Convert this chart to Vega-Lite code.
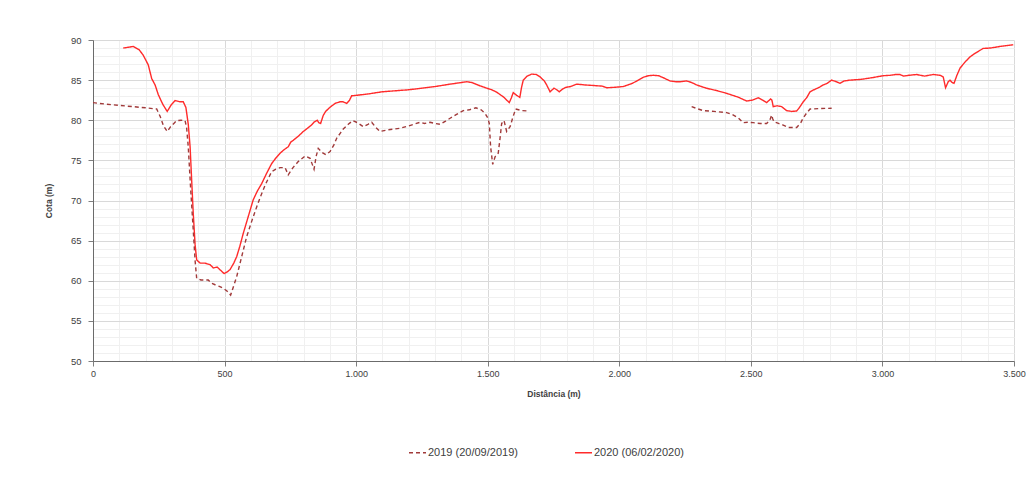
{
  "$schema": "https://vega.github.io/schema/vega-lite/v6.json",
  "autosize": {"type": "none"},
  "width": 921,
  "height": 321,
  "padding": {"left": 93, "top": 40, "right": 18, "bottom": 138},
  "background": "white",
  "config": {
    "view": {"stroke": null},
    "font": "Liberation Sans",
    "locale": {"number": {"decimal": ",", "thousands": ".", "grouping": [3], "currency": ["", " €"]}}
  },
  "data": {"values": [
{"s":"2020 (06/02/2020)","g":"a","d":115,"v":89.0},{"s":"2020 (06/02/2020)","g":"a","d":135,"v":89.1},{"s":"2020 (06/02/2020)","g":"a","d":153,"v":89.2},{"s":"2020 (06/02/2020)","g":"a","d":175,"v":88.8},{"s":"2020 (06/02/2020)","g":"a","d":191,"v":88.1},{"s":"2020 (06/02/2020)","g":"a","d":210,"v":86.9},{"s":"2020 (06/02/2020)","g":"a","d":223,"v":85.2},{"s":"2020 (06/02/2020)","g":"a","d":236,"v":84.4},{"s":"2020 (06/02/2020)","g":"a","d":248,"v":83.2},{"s":"2020 (06/02/2020)","g":"a","d":265,"v":82.0},{"s":"2020 (06/02/2020)","g":"a","d":282,"v":81.1},{"s":"2020 (06/02/2020)","g":"a","d":297,"v":81.9},{"s":"2020 (06/02/2020)","g":"a","d":312,"v":82.45},{"s":"2020 (06/02/2020)","g":"a","d":330,"v":82.3},{"s":"2020 (06/02/2020)","g":"a","d":343,"v":82.3},{"s":"2020 (06/02/2020)","g":"a","d":353,"v":81.6},{"s":"2020 (06/02/2020)","g":"a","d":362,"v":79.5},{"s":"2020 (06/02/2020)","g":"a","d":369,"v":76.7},{"s":"2020 (06/02/2020)","g":"a","d":375,"v":72.5},{"s":"2020 (06/02/2020)","g":"a","d":381,"v":68.4},{"s":"2020 (06/02/2020)","g":"a","d":388,"v":64.5},{"s":"2020 (06/02/2020)","g":"a","d":394,"v":62.6},{"s":"2020 (06/02/2020)","g":"a","d":407,"v":62.2},{"s":"2020 (06/02/2020)","g":"a","d":425,"v":62.2},{"s":"2020 (06/02/2020)","g":"a","d":445,"v":62.0},{"s":"2020 (06/02/2020)","g":"a","d":457,"v":61.6},{"s":"2020 (06/02/2020)","g":"a","d":472,"v":61.7},{"s":"2020 (06/02/2020)","g":"a","d":485,"v":61.3},{"s":"2020 (06/02/2020)","g":"a","d":498,"v":60.9},{"s":"2020 (06/02/2020)","g":"a","d":510,"v":61.1},{"s":"2020 (06/02/2020)","g":"a","d":521,"v":61.4},{"s":"2020 (06/02/2020)","g":"a","d":535,"v":62.2},{"s":"2020 (06/02/2020)","g":"a","d":546,"v":63.0},{"s":"2020 (06/02/2020)","g":"a","d":558,"v":64.3},{"s":"2020 (06/02/2020)","g":"a","d":571,"v":65.9},{"s":"2020 (06/02/2020)","g":"a","d":590,"v":68.0},{"s":"2020 (06/02/2020)","g":"a","d":609,"v":70.1},{"s":"2020 (06/02/2020)","g":"a","d":625,"v":71.2},{"s":"2020 (06/02/2020)","g":"a","d":641,"v":72.1},{"s":"2020 (06/02/2020)","g":"a","d":660,"v":73.4},{"s":"2020 (06/02/2020)","g":"a","d":679,"v":74.6},{"s":"2020 (06/02/2020)","g":"a","d":695,"v":75.3},{"s":"2020 (06/02/2020)","g":"a","d":711,"v":75.9},{"s":"2020 (06/02/2020)","g":"a","d":725,"v":76.3},{"s":"2020 (06/02/2020)","g":"a","d":742,"v":76.7},{"s":"2020 (06/02/2020)","g":"a","d":752,"v":77.3},{"s":"2020 (06/02/2020)","g":"a","d":761,"v":77.5},{"s":"2020 (06/02/2020)","g":"a","d":780,"v":78.0},{"s":"2020 (06/02/2020)","g":"a","d":799,"v":78.6},{"s":"2020 (06/02/2020)","g":"a","d":815,"v":79.0},{"s":"2020 (06/02/2020)","g":"a","d":830,"v":79.4},{"s":"2020 (06/02/2020)","g":"a","d":841,"v":79.8},{"s":"2020 (06/02/2020)","g":"a","d":852,"v":80.0},{"s":"2020 (06/02/2020)","g":"a","d":858,"v":79.7},{"s":"2020 (06/02/2020)","g":"a","d":865,"v":79.6},{"s":"2020 (06/02/2020)","g":"a","d":875,"v":80.6},{"s":"2020 (06/02/2020)","g":"a","d":884,"v":81.1},{"s":"2020 (06/02/2020)","g":"a","d":900,"v":81.6},{"s":"2020 (06/02/2020)","g":"a","d":920,"v":82.1},{"s":"2020 (06/02/2020)","g":"a","d":939,"v":82.3},{"s":"2020 (06/02/2020)","g":"a","d":950,"v":82.3},{"s":"2020 (06/02/2020)","g":"a","d":964,"v":82.1},{"s":"2020 (06/02/2020)","g":"a","d":975,"v":82.5},{"s":"2020 (06/02/2020)","g":"a","d":983,"v":83.05},{"s":"2020 (06/02/2020)","g":"a","d":1000,"v":83.1},{"s":"2020 (06/02/2020)","g":"a","d":1050,"v":83.3},{"s":"2020 (06/02/2020)","g":"a","d":1100,"v":83.55},{"s":"2020 (06/02/2020)","g":"a","d":1200,"v":83.8},{"s":"2020 (06/02/2020)","g":"a","d":1300,"v":84.2},{"s":"2020 (06/02/2020)","g":"a","d":1357,"v":84.5},{"s":"2020 (06/02/2020)","g":"a","d":1400,"v":84.7},{"s":"2020 (06/02/2020)","g":"a","d":1420,"v":84.8},{"s":"2020 (06/02/2020)","g":"a","d":1440,"v":84.7},{"s":"2020 (06/02/2020)","g":"a","d":1470,"v":84.3},{"s":"2020 (06/02/2020)","g":"a","d":1496,"v":84.0},{"s":"2020 (06/02/2020)","g":"a","d":1515,"v":83.8},{"s":"2020 (06/02/2020)","g":"a","d":1534,"v":83.5},{"s":"2020 (06/02/2020)","g":"a","d":1560,"v":82.9},{"s":"2020 (06/02/2020)","g":"a","d":1582,"v":82.2},{"s":"2020 (06/02/2020)","g":"a","d":1590,"v":82.8},{"s":"2020 (06/02/2020)","g":"a","d":1597,"v":83.45},{"s":"2020 (06/02/2020)","g":"a","d":1610,"v":83.1},{"s":"2020 (06/02/2020)","g":"a","d":1622,"v":82.85},{"s":"2020 (06/02/2020)","g":"a","d":1628,"v":84.0},{"s":"2020 (06/02/2020)","g":"a","d":1635,"v":85.0},{"s":"2020 (06/02/2020)","g":"a","d":1650,"v":85.5},{"s":"2020 (06/02/2020)","g":"a","d":1667,"v":85.75},{"s":"2020 (06/02/2020)","g":"a","d":1685,"v":85.7},{"s":"2020 (06/02/2020)","g":"a","d":1699,"v":85.4},{"s":"2020 (06/02/2020)","g":"a","d":1715,"v":84.9},{"s":"2020 (06/02/2020)","g":"a","d":1724,"v":84.4},{"s":"2020 (06/02/2020)","g":"a","d":1737,"v":83.55},{"s":"2020 (06/02/2020)","g":"a","d":1752,"v":84.0},{"s":"2020 (06/02/2020)","g":"a","d":1762,"v":83.8},{"s":"2020 (06/02/2020)","g":"a","d":1772,"v":83.55},{"s":"2020 (06/02/2020)","g":"a","d":1785,"v":83.9},{"s":"2020 (06/02/2020)","g":"a","d":1797,"v":84.1},{"s":"2020 (06/02/2020)","g":"a","d":1815,"v":84.2},{"s":"2020 (06/02/2020)","g":"a","d":1838,"v":84.5},{"s":"2020 (06/02/2020)","g":"a","d":1870,"v":84.4},{"s":"2020 (06/02/2020)","g":"a","d":1914,"v":84.3},{"s":"2020 (06/02/2020)","g":"a","d":1935,"v":84.25},{"s":"2020 (06/02/2020)","g":"a","d":1952,"v":84.05},{"s":"2020 (06/02/2020)","g":"a","d":1980,"v":84.1},{"s":"2020 (06/02/2020)","g":"a","d":2015,"v":84.2},{"s":"2020 (06/02/2020)","g":"a","d":2050,"v":84.6},{"s":"2020 (06/02/2020)","g":"a","d":2091,"v":85.35},{"s":"2020 (06/02/2020)","g":"a","d":2110,"v":85.55},{"s":"2020 (06/02/2020)","g":"a","d":2129,"v":85.6},{"s":"2020 (06/02/2020)","g":"a","d":2150,"v":85.55},{"s":"2020 (06/02/2020)","g":"a","d":2167,"v":85.3},{"s":"2020 (06/02/2020)","g":"a","d":2193,"v":84.9},{"s":"2020 (06/02/2020)","g":"a","d":2215,"v":84.8},{"s":"2020 (06/02/2020)","g":"a","d":2231,"v":84.8},{"s":"2020 (06/02/2020)","g":"a","d":2256,"v":84.9},{"s":"2020 (06/02/2020)","g":"a","d":2275,"v":84.7},{"s":"2020 (06/02/2020)","g":"a","d":2294,"v":84.4},{"s":"2020 (06/02/2020)","g":"a","d":2330,"v":84.0},{"s":"2020 (06/02/2020)","g":"a","d":2370,"v":83.7},{"s":"2020 (06/02/2020)","g":"a","d":2408,"v":83.35},{"s":"2020 (06/02/2020)","g":"a","d":2450,"v":82.9},{"s":"2020 (06/02/2020)","g":"a","d":2484,"v":82.4},{"s":"2020 (06/02/2020)","g":"a","d":2505,"v":82.5},{"s":"2020 (06/02/2020)","g":"a","d":2528,"v":82.8},{"s":"2020 (06/02/2020)","g":"a","d":2545,"v":82.5},{"s":"2020 (06/02/2020)","g":"a","d":2560,"v":82.2},{"s":"2020 (06/02/2020)","g":"a","d":2575,"v":82.65},{"s":"2020 (06/02/2020)","g":"a","d":2580,"v":82.5},{"s":"2020 (06/02/2020)","g":"a","d":2585,"v":81.7},{"s":"2020 (06/02/2020)","g":"a","d":2600,"v":81.8},{"s":"2020 (06/02/2020)","g":"a","d":2617,"v":81.7},{"s":"2020 (06/02/2020)","g":"a","d":2636,"v":81.2},{"s":"2020 (06/02/2020)","g":"a","d":2655,"v":81.1},{"s":"2020 (06/02/2020)","g":"a","d":2674,"v":81.15},{"s":"2020 (06/02/2020)","g":"a","d":2685,"v":81.6},{"s":"2020 (06/02/2020)","g":"a","d":2699,"v":82.3},{"s":"2020 (06/02/2020)","g":"a","d":2712,"v":82.8},{"s":"2020 (06/02/2020)","g":"a","d":2725,"v":83.55},{"s":"2020 (06/02/2020)","g":"a","d":2740,"v":83.8},{"s":"2020 (06/02/2020)","g":"a","d":2760,"v":84.1},{"s":"2020 (06/02/2020)","g":"a","d":2775,"v":84.4},{"s":"2020 (06/02/2020)","g":"a","d":2790,"v":84.6},{"s":"2020 (06/02/2020)","g":"a","d":2807,"v":85.0},{"s":"2020 (06/02/2020)","g":"a","d":2825,"v":84.8},{"s":"2020 (06/02/2020)","g":"a","d":2839,"v":84.6},{"s":"2020 (06/02/2020)","g":"a","d":2855,"v":84.9},{"s":"2020 (06/02/2020)","g":"a","d":2877,"v":85.0},{"s":"2020 (06/02/2020)","g":"a","d":2920,"v":85.1},{"s":"2020 (06/02/2020)","g":"a","d":2960,"v":85.3},{"s":"2020 (06/02/2020)","g":"a","d":3003,"v":85.55},{"s":"2020 (06/02/2020)","g":"a","d":3030,"v":85.6},{"s":"2020 (06/02/2020)","g":"a","d":3050,"v":85.7},{"s":"2020 (06/02/2020)","g":"a","d":3067,"v":85.7},{"s":"2020 (06/02/2020)","g":"a","d":3080,"v":85.5},{"s":"2020 (06/02/2020)","g":"a","d":3100,"v":85.6},{"s":"2020 (06/02/2020)","g":"a","d":3130,"v":85.7},{"s":"2020 (06/02/2020)","g":"a","d":3160,"v":85.5},{"s":"2020 (06/02/2020)","g":"a","d":3193,"v":85.7},{"s":"2020 (06/02/2020)","g":"a","d":3220,"v":85.6},{"s":"2020 (06/02/2020)","g":"a","d":3231,"v":85.4},{"s":"2020 (06/02/2020)","g":"a","d":3240,"v":84.05},{"s":"2020 (06/02/2020)","g":"a","d":3250,"v":84.8},{"s":"2020 (06/02/2020)","g":"a","d":3257,"v":85.0},{"s":"2020 (06/02/2020)","g":"a","d":3265,"v":84.7},{"s":"2020 (06/02/2020)","g":"a","d":3272,"v":84.6},{"s":"2020 (06/02/2020)","g":"a","d":3283,"v":85.6},{"s":"2020 (06/02/2020)","g":"a","d":3295,"v":86.5},{"s":"2020 (06/02/2020)","g":"a","d":3315,"v":87.3},{"s":"2020 (06/02/2020)","g":"a","d":3333,"v":87.9},{"s":"2020 (06/02/2020)","g":"a","d":3350,"v":88.3},{"s":"2020 (06/02/2020)","g":"a","d":3370,"v":88.7},{"s":"2020 (06/02/2020)","g":"a","d":3383,"v":88.95},{"s":"2020 (06/02/2020)","g":"a","d":3410,"v":89.0},{"s":"2020 (06/02/2020)","g":"a","d":3430,"v":89.1},{"s":"2020 (06/02/2020)","g":"a","d":3447,"v":89.2},{"s":"2020 (06/02/2020)","g":"a","d":3470,"v":89.3},{"s":"2020 (06/02/2020)","g":"a","d":3497,"v":89.4},
{"s":"2019 (20/09/2019)","g":"b","d":0,"v":82.2},{"s":"2019 (20/09/2019)","g":"b","d":50,"v":82.0},{"s":"2019 (20/09/2019)","g":"b","d":100,"v":81.85},{"s":"2019 (20/09/2019)","g":"b","d":150,"v":81.7},{"s":"2019 (20/09/2019)","g":"b","d":200,"v":81.55},{"s":"2019 (20/09/2019)","g":"b","d":242,"v":81.4},{"s":"2019 (20/09/2019)","g":"b","d":255,"v":80.5},{"s":"2019 (20/09/2019)","g":"b","d":268,"v":79.3},{"s":"2019 (20/09/2019)","g":"b","d":282,"v":78.6},{"s":"2019 (20/09/2019)","g":"b","d":295,"v":79.2},{"s":"2019 (20/09/2019)","g":"b","d":310,"v":79.7},{"s":"2019 (20/09/2019)","g":"b","d":318,"v":79.95},{"s":"2019 (20/09/2019)","g":"b","d":335,"v":80.0},{"s":"2019 (20/09/2019)","g":"b","d":350,"v":79.95},{"s":"2019 (20/09/2019)","g":"b","d":356,"v":79.0},{"s":"2019 (20/09/2019)","g":"b","d":362,"v":76.7},{"s":"2019 (20/09/2019)","g":"b","d":371,"v":71.5},{"s":"2019 (20/09/2019)","g":"b","d":381,"v":66.3},{"s":"2019 (20/09/2019)","g":"b","d":388,"v":62.5},{"s":"2019 (20/09/2019)","g":"b","d":394,"v":60.3},{"s":"2019 (20/09/2019)","g":"b","d":410,"v":60.1},{"s":"2019 (20/09/2019)","g":"b","d":438,"v":60.1},{"s":"2019 (20/09/2019)","g":"b","d":450,"v":59.7},{"s":"2019 (20/09/2019)","g":"b","d":464,"v":59.5},{"s":"2019 (20/09/2019)","g":"b","d":480,"v":59.3},{"s":"2019 (20/09/2019)","g":"b","d":495,"v":59.06},{"s":"2019 (20/09/2019)","g":"b","d":510,"v":58.7},{"s":"2019 (20/09/2019)","g":"b","d":523,"v":58.2},{"s":"2019 (20/09/2019)","g":"b","d":535,"v":59.4},{"s":"2019 (20/09/2019)","g":"b","d":546,"v":60.5},{"s":"2019 (20/09/2019)","g":"b","d":565,"v":63.0},{"s":"2019 (20/09/2019)","g":"b","d":584,"v":65.5},{"s":"2019 (20/09/2019)","g":"b","d":603,"v":67.4},{"s":"2019 (20/09/2019)","g":"b","d":622,"v":69.2},{"s":"2019 (20/09/2019)","g":"b","d":638,"v":70.6},{"s":"2019 (20/09/2019)","g":"b","d":654,"v":71.9},{"s":"2019 (20/09/2019)","g":"b","d":667,"v":72.8},{"s":"2019 (20/09/2019)","g":"b","d":679,"v":73.6},{"s":"2019 (20/09/2019)","g":"b","d":695,"v":73.9},{"s":"2019 (20/09/2019)","g":"b","d":711,"v":74.1},{"s":"2019 (20/09/2019)","g":"b","d":730,"v":74.1},{"s":"2019 (20/09/2019)","g":"b","d":742,"v":73.2},{"s":"2019 (20/09/2019)","g":"b","d":760,"v":74.1},{"s":"2019 (20/09/2019)","g":"b","d":780,"v":74.85},{"s":"2019 (20/09/2019)","g":"b","d":806,"v":75.55},{"s":"2019 (20/09/2019)","g":"b","d":825,"v":75.25},{"s":"2019 (20/09/2019)","g":"b","d":840,"v":73.9},{"s":"2019 (20/09/2019)","g":"b","d":848,"v":75.5},{"s":"2019 (20/09/2019)","g":"b","d":856,"v":76.5},{"s":"2019 (20/09/2019)","g":"b","d":870,"v":76.0},{"s":"2019 (20/09/2019)","g":"b","d":885,"v":75.7},{"s":"2019 (20/09/2019)","g":"b","d":901,"v":76.1},{"s":"2019 (20/09/2019)","g":"b","d":915,"v":76.9},{"s":"2019 (20/09/2019)","g":"b","d":926,"v":77.75},{"s":"2019 (20/09/2019)","g":"b","d":940,"v":78.4},{"s":"2019 (20/09/2019)","g":"b","d":951,"v":78.9},{"s":"2019 (20/09/2019)","g":"b","d":970,"v":79.5},{"s":"2019 (20/09/2019)","g":"b","d":987,"v":79.95},{"s":"2019 (20/09/2019)","g":"b","d":1005,"v":79.7},{"s":"2019 (20/09/2019)","g":"b","d":1027,"v":79.2},{"s":"2019 (20/09/2019)","g":"b","d":1045,"v":79.5},{"s":"2019 (20/09/2019)","g":"b","d":1059,"v":79.75},{"s":"2019 (20/09/2019)","g":"b","d":1075,"v":79.1},{"s":"2019 (20/09/2019)","g":"b","d":1091,"v":78.6},{"s":"2019 (20/09/2019)","g":"b","d":1120,"v":78.8},{"s":"2019 (20/09/2019)","g":"b","d":1167,"v":79.0},{"s":"2019 (20/09/2019)","g":"b","d":1200,"v":79.3},{"s":"2019 (20/09/2019)","g":"b","d":1243,"v":79.75},{"s":"2019 (20/09/2019)","g":"b","d":1260,"v":79.6},{"s":"2019 (20/09/2019)","g":"b","d":1281,"v":79.75},{"s":"2019 (20/09/2019)","g":"b","d":1300,"v":79.6},{"s":"2019 (20/09/2019)","g":"b","d":1319,"v":79.5},{"s":"2019 (20/09/2019)","g":"b","d":1340,"v":79.9},{"s":"2019 (20/09/2019)","g":"b","d":1357,"v":80.25},{"s":"2019 (20/09/2019)","g":"b","d":1380,"v":80.7},{"s":"2019 (20/09/2019)","g":"b","d":1407,"v":81.2},{"s":"2019 (20/09/2019)","g":"b","d":1430,"v":81.3},{"s":"2019 (20/09/2019)","g":"b","d":1455,"v":81.55},{"s":"2019 (20/09/2019)","g":"b","d":1475,"v":81.3},{"s":"2019 (20/09/2019)","g":"b","d":1490,"v":80.85},{"s":"2019 (20/09/2019)","g":"b","d":1500,"v":80.3},{"s":"2019 (20/09/2019)","g":"b","d":1506,"v":79.6},{"s":"2019 (20/09/2019)","g":"b","d":1511,"v":76.7},{"s":"2019 (20/09/2019)","g":"b","d":1519,"v":74.5},{"s":"2019 (20/09/2019)","g":"b","d":1528,"v":75.45},{"s":"2019 (20/09/2019)","g":"b","d":1540,"v":75.9},{"s":"2019 (20/09/2019)","g":"b","d":1547,"v":77.8},{"s":"2019 (20/09/2019)","g":"b","d":1553,"v":79.6},{"s":"2019 (20/09/2019)","g":"b","d":1562,"v":79.95},{"s":"2019 (20/09/2019)","g":"b","d":1572,"v":78.6},{"s":"2019 (20/09/2019)","g":"b","d":1585,"v":79.2},{"s":"2019 (20/09/2019)","g":"b","d":1595,"v":80.3},{"s":"2019 (20/09/2019)","g":"b","d":1606,"v":81.4},{"s":"2019 (20/09/2019)","g":"b","d":1630,"v":81.2},{"s":"2019 (20/09/2019)","g":"b","d":1654,"v":81.15},
{"s":"2019 (20/09/2019)","g":"c","d":2275,"v":81.7},{"s":"2019 (20/09/2019)","g":"c","d":2300,"v":81.4},{"s":"2019 (20/09/2019)","g":"c","d":2319,"v":81.2},{"s":"2019 (20/09/2019)","g":"c","d":2360,"v":81.1},{"s":"2019 (20/09/2019)","g":"c","d":2408,"v":80.95},{"s":"2019 (20/09/2019)","g":"c","d":2430,"v":80.7},{"s":"2019 (20/09/2019)","g":"c","d":2452,"v":80.3},{"s":"2019 (20/09/2019)","g":"c","d":2471,"v":79.7},{"s":"2019 (20/09/2019)","g":"c","d":2490,"v":79.75},{"s":"2019 (20/09/2019)","g":"c","d":2509,"v":79.7},{"s":"2019 (20/09/2019)","g":"c","d":2535,"v":79.6},{"s":"2019 (20/09/2019)","g":"c","d":2560,"v":79.6},{"s":"2019 (20/09/2019)","g":"c","d":2572,"v":80.0},{"s":"2019 (20/09/2019)","g":"c","d":2579,"v":80.65},{"s":"2019 (20/09/2019)","g":"c","d":2583,"v":80.2},{"s":"2019 (20/09/2019)","g":"c","d":2588,"v":79.8},{"s":"2019 (20/09/2019)","g":"c","d":2605,"v":79.6},{"s":"2019 (20/09/2019)","g":"c","d":2623,"v":79.4},{"s":"2019 (20/09/2019)","g":"c","d":2642,"v":79.1},{"s":"2019 (20/09/2019)","g":"c","d":2660,"v":79.1},{"s":"2019 (20/09/2019)","g":"c","d":2674,"v":79.1},{"s":"2019 (20/09/2019)","g":"c","d":2690,"v":79.7},{"s":"2019 (20/09/2019)","g":"c","d":2699,"v":80.3},{"s":"2019 (20/09/2019)","g":"c","d":2712,"v":80.9},{"s":"2019 (20/09/2019)","g":"c","d":2725,"v":81.4},{"s":"2019 (20/09/2019)","g":"c","d":2760,"v":81.45},{"s":"2019 (20/09/2019)","g":"c","d":2807,"v":81.5}
  ]},
  "mark": {"type": "line", "strokeWidth": 1.4},
  "encoding": {
    "x": {
      "field": "d", "type": "quantitative",
      "scale": {"domain": [0, 3500], "nice": false, "zero": false},
      "axis": {
        "title": "Distância (m)",
        "values": [0,100,200,300,400,500,600,700,800,900,1000,1100,1200,1300,1400,1500,1600,1700,1800,1900,2000,2100,2200,2300,2400,2500,2600,2700,2800,2900,3000,3100,3200,3300,3400,3500],
        "labelExpr": "datum.value % 500 === 0 ? replace(format(datum.value, ','), ',', '.') : ''",
        "labelFont": "Liberation Sans", "labelFontSize": 9, "labelColor": "#404040",
        "labelPadding": 3, "labelFlush": false, "labelOverlap": false,
        "tickSize": 5, "tickColor": "#7f7f7f",
        "tickOpacity": {"condition": {"test": "datum.value % 500 === 0", "value": 1}, "value": 0},
        "domainColor": "#6b6b6b",
        "grid": true,
        "gridColor": {"condition": {"test": "datum.value % 500 === 0", "value": "#d9d9d9"}, "value": "#f0f0f0"},
        "titleFont": "Liberation Sans", "titleFontSize": 8.5, "titleFontWeight": "bold", "titleColor": "#404040",
        "titlePadding": 11
      }
    },
    "y": {
      "field": "v", "type": "quantitative",
      "scale": {"domain": [50, 90], "nice": false, "zero": false},
      "axis": {
        "title": "Cota (m)",
        "values": [50,51,52,53,54,55,56,57,58,59,60,61,62,63,64,65,66,67,68,69,70,71,72,73,74,75,76,77,78,79,80,81,82,83,84,85,86,87,88,89,90],
        "labelExpr": "datum.value % 5 === 0 ? datum.label : ''",
        "labelFont": "Liberation Sans", "labelFontSize": 9.5, "labelColor": "#404040",
        "labelPadding": 7, "labelOverlap": false,
        "tickSize": 5, "tickColor": "#7f7f7f",
        "tickOpacity": {"condition": {"test": "datum.value % 5 === 0", "value": 1}, "value": 0},
        "domainColor": "#6b6b6b",
        "grid": true,
        "gridColor": {"condition": {"test": "datum.value % 5 === 0", "value": "#d9d9d9"}, "value": "#f0f0f0"},
        "titleFont": "Liberation Sans", "titleFontSize": 8.5, "titleFontWeight": "bold", "titleColor": "#404040",
        "titlePadding": 17
      }
    },
    "color": {
      "field": "s", "type": "nominal",
      "scale": {"domain": ["2019 (20/09/2019)", "2020 (06/02/2020)"], "range": ["#a13a3a", "#ff2b2b"]},
      "legend": {
        "title": null, "orient": "none", "direction": "horizontal",
        "legendX": 315, "legendY": 403,
        "symbolType": "stroke", "symbolSize": 289, "symbolStrokeWidth": 1.5,
        "labelFont": "Liberation Sans", "labelFontSize": 11, "labelColor": "#404040",
        "labelOffset": 1, "columnPadding": 54
      }
    },
    "strokeDash": {
      "field": "s", "type": "nominal",
      "scale": {"domain": ["2019 (20/09/2019)", "2020 (06/02/2020)"], "range": [[4, 3], [1, 0]]},
      "legend": {
        "title": null, "orient": "none", "direction": "horizontal",
        "legendX": 315, "legendY": 403,
        "symbolType": "stroke", "symbolSize": 289, "symbolStrokeWidth": 1.5,
        "labelFont": "Liberation Sans", "labelFontSize": 11, "labelColor": "#404040",
        "labelOffset": 1, "columnPadding": 54
      }
    },
    "detail": {"field": "g", "type": "nominal"}
  }
}
